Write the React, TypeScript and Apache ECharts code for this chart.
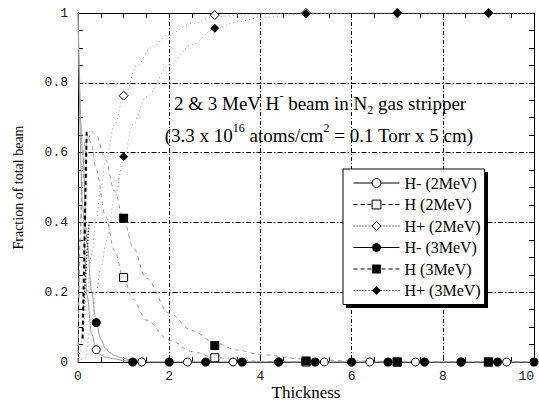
import React, { useEffect, useRef } from 'react';
import * as echarts from 'echarts';

// ---- Axis tick labels ----
const xTickLabels = [0, 2, 4, 6, 8, 10];
const yTickLabels = [0, 0.2, 0.4, 0.6, 0.8, 1];

// ---- Measured points (markers) ----
const hMinus2MeV = [[0.4, 0.035], [1.4, 0], [2.4, 0], [3.4, 0], [4.4, 0], [5.4, 0], [6.4, 0], [7.4, 0], [8.4, 0], [9.4, 0]];
const hZero2MeV = [[1, 0.242], [3, 0.012], [5, 0], [7, 0], [9, 0]];
const hPlus2MeV = [[1, 0.763], [3, 0.994], [5, 1], [7, 1], [9, 1]];
const hMinus3MeV = [[0.4, 0.113], [1.2, 0], [2.0, 0], [2.8, 0], [3.6, 0], [4.4, 0], [5.2, 0], [6.0, 0], [6.8, 0], [7.6, 0], [8.4, 0], [9.2, 0], [10, 0]];
const hZero3MeV = [[1, 0.412], [3, 0.047], [5, 0.003], [7, 0], [9, 0]];
const hPlus3MeV = [[1, 0.588], [3, 0.956], [5, 0.998], [7, 1], [9, 1]];

// ---- Fitted curves (gray) ----
const fitMinus2MeV = [[0, 1], [0.1, 0.45], [0.2, 0.19], [0.3, 0.08], [0.4, 0.035], [0.5, 0.02], [0.6, 0.014], [0.8, 0.009], [1.0, 0.004], [1.3, 0], [10, 0]];
const fitMinus3MeV = [[0, 1], [0.1, 0.6], [0.2, 0.34], [0.3, 0.2], [0.4, 0.113], [0.5, 0.065], [0.6, 0.04], [0.7, 0.027], [0.8, 0.019], [0.9, 0.014], [1.0, 0.01], [1.2, 0.004], [1.5, 0], [10, 0]];
const fitZero2MeV = [[0, 0], [0.04, 0.35], [0.1, 0.57], [0.15, 0.63], [0.22, 0.65], [0.3, 0.62], [0.4, 0.55], [0.6, 0.42], [0.8, 0.32], [1, 0.24], [1.2, 0.18], [1.5, 0.12], [2, 0.063], [2.5, 0.03], [3, 0.013], [3.5, 0.006], [4, 0.002], [5, 0], [10, 0]];
const fitZero3MeV = [[0, 0], [0.05, 0.35], [0.1, 0.52], [0.2, 0.63], [0.3, 0.66], [0.4, 0.65], [0.6, 0.58], [0.8, 0.49], [1, 0.41], [1.2, 0.33], [1.5, 0.24], [2, 0.14], [2.5, 0.09], [3, 0.055], [3.5, 0.034], [4, 0.021], [5, 0.008], [6, 0.003], [7, 0.001], [10, 0]];
const fitPlus2MeV = [[0, 0], [0.05, 0.03], [0.1, 0.08], [0.2, 0.2], [0.3, 0.31], [0.4, 0.41], [0.5, 0.5], [0.6, 0.57], [0.8, 0.68], [1, 0.76], [1.3, 0.85], [1.6, 0.9], [2, 0.94], [2.5, 0.97], [3, 0.99], [4, 0.997], [5, 1], [10, 1]];
const fitPlus3MeV = [[0, 0], [0.15, 0.01], [0.3, 0.12], [0.4, 0.2], [0.5, 0.27], [0.63, 0.35], [0.8, 0.47], [1, 0.58], [1.2, 0.68], [1.5, 0.76], [2, 0.85], [2.5, 0.91], [3, 0.955], [3.5, 0.975], [4, 0.987], [5, 0.997], [6, 1], [10, 1]];

// ---- Stray black segments near x = 0 ----
const strayDashed = [[0.19, 0.66], [0.1, 0.06]];
const strayDotted = [[0.12, 0.15], [0.24, 0.4]];

const SERIF = "'Liberation Serif', 'Times New Roman', serif";
const MONO = "'Liberation Mono', 'Courier New', monospace";

const DASH = [4, 3];
const DOT = [1, 2];

type MarkerDef = {
  name: string;
  data: number[][];
  symbol: string;
  size: number;
  filled: boolean;
  lineType: any;
};

const markerDefs: MarkerDef[] = [
  { name: 'H- (2MeV)', data: hMinus2MeV, symbol: 'circle', size: 8, filled: false, lineType: 'solid' },
  { name: 'H (2MeV)', data: hZero2MeV, symbol: 'rect', size: 8, filled: false, lineType: DASH },
  { name: 'H+ (2MeV)', data: hPlus2MeV, symbol: 'diamond', size: 9, filled: false, lineType: DOT },
  { name: 'H- (3MeV)', data: hMinus3MeV, symbol: 'circle', size: 9, filled: true, lineType: 'solid' },
  { name: 'H (3MeV)', data: hZero3MeV, symbol: 'rect', size: 9, filled: true, lineType: DASH },
  { name: 'H+ (3MeV)', data: hPlus3MeV, symbol: 'diamond', size: 9, filled: true, lineType: DOT },
];

const curveDefs = [
  { data: fitMinus2MeV, type: 'solid' },
  { data: fitMinus3MeV, type: 'solid' },
  { data: fitZero2MeV, type: [4, 4] },
  { data: fitZero3MeV, type: [4, 4] },
  { data: fitPlus2MeV, type: [1, 3] },
  { data: fitPlus3MeV, type: [1, 3] },
];

export default function App() {
  const ref = useRef<HTMLDivElement>(null);

  useEffect(() => {
    if (!ref.current) return;
    const chart = echarts.init(ref.current, undefined, { renderer: 'svg' });

    const curveSeries = curveDefs.map((c) => ({
      type: 'line',
      data: c.data,
      showSymbol: false,
      smooth: 0.35,
      smoothMonotone: 'x',
      silent: true,
      lineStyle: { color: '#9a9a9a', width: 1, type: c.type },
      z: 1,
    }));

    const straySeries = [
      { type: 'line', data: strayDashed, showSymbol: false, silent: true, lineStyle: { color: '#000', width: 2, type: [4, 3] }, z: 2 },
      { type: 'line', data: strayDotted, showSymbol: false, silent: true, lineStyle: { color: '#000', width: 1.5, type: [1, 2] }, z: 2 },
    ];

    const markerSeries = markerDefs.map((m) => ({
      type: 'line',
      name: m.name,
      data: m.data,
      symbol: m.symbol,
      symbolSize: m.size,
      showAllSymbol: true,
      clip: false,
      silent: true,
      lineStyle: { opacity: 0, color: '#000', type: m.lineType },
      itemStyle: m.filled
        ? { color: '#000', borderColor: '#000', borderWidth: 0 }
        : { color: '#fff', borderColor: '#000', borderWidth: 1 },
      z: 5,
    }));

    const yFmt = (v: number) => {
      const t = yTickLabels.find((y) => Math.abs(y - v) < 1e-6);
      if (t === undefined) return '';
      return t === 0 ? '0' : t === 1 ? '1' : t.toFixed(1);
    };
    const xFmt = (v: number) => {
      const t = xTickLabels.find((x) => Math.abs(x - v) < 1e-6);
      return t === undefined ? '' : String(t);
    };

    const tickCommon = {
      axisLine: { show: true, onZero: false, lineStyle: { color: '#000', width: 1 } },
      axisTick: { show: true, inside: true, length: 5, lineStyle: { color: '#000', width: 1 } },
      minorTick: { show: true, splitNumber: 4, length: 5, lineStyle: { color: '#000', width: 1 } },
    };

    const rich = (size: number) => ({
      n: { fontFamily: SERIF, fontSize: size, color: '#000', lineHeight: 26 },
      sup: { fontFamily: SERIF, fontSize: Math.round(size * 0.62), color: '#000', lineHeight: 13, verticalAlign: 'top' },
      sub: { fontFamily: SERIF, fontSize: Math.round(size * 0.62), color: '#000', lineHeight: 13, verticalAlign: 'bottom' },
    });

    chart.setOption({
      animation: false,
      backgroundColor: '#fff',
      grid: { left: 78, right: 5, top: 13, bottom: 40, containLabel: false, outerBoundsMode: 'none' },
      xAxis: [
        {
          type: 'value', min: 0, max: 10, interval: 2, position: 'bottom',
          ...tickCommon,
          axisLabel: { fontFamily: MONO, fontSize: 13, color: '#222', margin: 8, formatter: xFmt, alignMaxLabel: 'right' },
          splitLine: { show: true, lineStyle: { color: '#000', width: 1, type: [4, 2, 1, 2] } },
          name: 'Thickness', nameLocation: 'middle', nameGap: 21, nameMoveOverlap: false,
          nameTextStyle: { fontFamily: SERIF, fontSize: 17, color: '#000', lineHeight: 18 },
        },
        {
          type: 'value', min: 0, max: 10, interval: 2, position: 'top',
          ...tickCommon,
          axisLabel: { show: false },
          splitLine: { show: false },
        },
      ],
      yAxis: [
        {
          type: 'value', min: 0, max: 1, interval: 0.2, position: 'left',
          ...tickCommon,
          axisLabel: { fontFamily: MONO, fontSize: 13, color: '#222', margin: 10, formatter: yFmt },
          splitLine: { show: true, lineStyle: { color: '#000', width: 1.2, type: [5, 2, 1.5, 2] } },
          name: 'Fraction of total beam', nameLocation: 'middle', nameGap: 53, nameRotate: 90, nameMoveOverlap: false,
          nameTextStyle: { fontFamily: SERIF, fontSize: 14, color: '#000' },
        },
        {
          type: 'value', min: 0, max: 1, interval: 0.2, position: 'right',
          ...tickCommon,
          axisLabel: { show: false },
          splitLine: { show: false },
        },
      ],
      legend: {
        show: true,
        orient: 'vertical',
        left: 343,
        top: 169,
        z: 20,
        itemWidth: 46,
        itemHeight: 11,
        itemGap: 5.5,
        padding: [6, 4, 6, 10],
        backgroundColor: '#fff',
        borderColor: '#000',
        borderWidth: 1,
        borderRadius: 0,
        selectedMode: false,
        textStyle: { fontFamily: SERIF, fontSize: 16, color: '#000', lineHeight: 16 },
        data: markerDefs.map((m) => ({
          name: m.name,
          lineStyle: { color: '#000', width: 1, opacity: 1, type: m.lineType },
          itemStyle: m.filled
            ? { color: '#000', borderColor: '#000', borderWidth: 0 }
            : { color: '#fff', borderColor: '#000', borderWidth: 1 },
        })),
      },
      graphic: [
        {
          type: 'rect', z: 19, silent: true,
          shape: { x: 346, y: 172, width: 142, height: 136 },
          style: { fill: '#000' },
        },
        {
          type: 'text', x: 320, y: 103, z: 10, silent: true,
          style: {
            text: '{n|2 & 3 MeV H}{sup|-}{n| beam in N}{sub|2}{n| gas stripper}',
            align: 'center', verticalAlign: 'middle', rich: rich(19),
          },
        },
        {
          type: 'text', x: 319, y: 135, z: 10, silent: true,
          style: {
            text: '{n|(3.3 x 10}{sup|16}{n| atoms/cm}{sup|2}{n| = 0.1 Torr x 5 cm)}',
            align: 'center', verticalAlign: 'middle', rich: rich(19),
          },
        },
      ],
      series: [...curveSeries, ...straySeries, ...markerSeries],
    });

    return () => chart.dispose();
  }, []);

  return <div ref={ref} style={{ width: 539, height: 402, position: 'absolute', left: 0, top: 0 }} />;
}
